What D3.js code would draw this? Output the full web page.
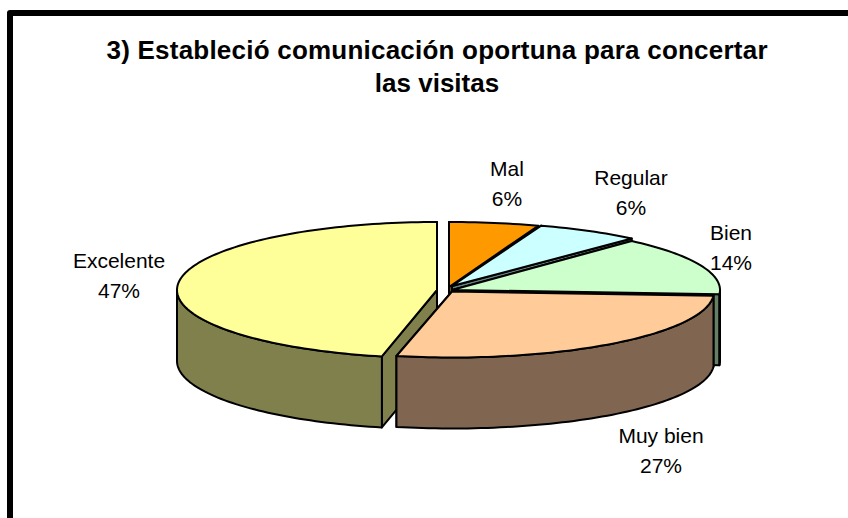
<!DOCTYPE html>
<html><head><meta charset="utf-8">
<script src="https://cdn.jsdelivr.net/npm/d3@7/dist/d3.min.js"></script>
<style>html,body{margin:0;padding:0;background:#fff}svg{display:block}text{font-family:"Liberation Sans",Arial,sans-serif;fill:#000}</style>
</head><body><div id="chart"></div>
<script>
const categories = ["Mal","Regular","Bien","Muy bien","Excelente"];
const values = [5.4,6.3,14.3,27.4,46.6];
const percentLabels = ["6%","6%","14%","27%","47%"];
const topColors = ["#FF9900","#CCFFFF","#CCFFCC","#FFCC99","#FFFF99"];
const wallColors = ["#804D00","#668080","#668066","#806650","#80804D"];
const titleLines = ["3) Estableció comunicación oportuna para concertar","las visitas"];

// layout
const W=848,H=518,depth=71;
const sliceCenters=[[449,287],[452,286],[452,290],[452,291.5],[437,290]];
const radiiX=[268,268,268,262,260], radiiY=[65,64,66,66,68];
const labelCenters=[[507,184],[631,193],[731,248],[661,451],[119,276]];
const drawOrder=[0,1,2,4,3];

const svg=d3.select("#chart").append("svg").attr("width",W).attr("height",H);
svg.append("rect").attr("width",W).attr("height",H).attr("fill","#fff");
svg.append("path").attr("d",d3.line()([[10,H+5],[10,13],[W+5,13]]))
  .attr("fill","none").attr("stroke","#000").attr("stroke-width",6).attr("stroke-linejoin","round");

svg.selectAll(".title").data(titleLines).join("text").attr("class","title")
  .attr("x",437).attr("y",(d,i)=>59+i*33).attr("text-anchor","middle")
  .attr("font-weight","bold").attr("font-size",26).attr("textLength",(d,i)=>i===0?661:null).text(d=>d);

const arcs=d3.pie().sort(null).value(d=>d)(values);
const line=d3.line();
function pt(i,a,dy=0){return [sliceCenters[i][0]+radiiX[i]*Math.sin(a),sliceCenters[i][1]-radiiY[i]*Math.cos(a)+dy];}
function arcPts(i,a0,a1,dy=0){const n=Math.max(2,Math.ceil((a1-a0)*40));return d3.range(n+1).map(k=>pt(i,a0+(a1-a0)*k/n,dy));}
const g=svg.append("g").attr("stroke","#000").attr("stroke-width",2).attr("stroke-linejoin","round");
const HALF=Math.PI/2, BACK=Math.PI*1.5;
drawOrder.forEach(i=>{
  const a=arcs[i], c=sliceCenters[i], wall=wallColors[i];
  [a.startAngle,a.endAngle].forEach(t=>{
    const p=pt(i,t);
    g.append("path").attr("fill",wall).attr("d",line([c,p,[p[0],p[1]+depth],[c[0],c[1]+depth]])+"Z");
  });
  const f0=Math.max(a.startAngle,HALF), f1=Math.min(a.endAngle,BACK);
  if(f1>f0){
    const upper=arcPts(i,f0,f1), lower=arcPts(i,f0,f1,depth).reverse();
    g.append("path").attr("fill",wall).attr("d",line(upper.concat(lower))+"Z");
  }
  g.append("path").attr("fill",topColors[i]).attr("d",line([c].concat(arcPts(i,a.startAngle,a.endAngle)))+"Z");
});

categories.forEach((name,i)=>{
  const t=svg.append("text").attr("text-anchor","middle").attr("font-size",21);
  t.append("tspan").attr("x",labelCenters[i][0]).attr("y",labelCenters[i][1]-8).text(name);
  t.append("tspan").attr("x",labelCenters[i][0]).attr("y",labelCenters[i][1]+22).text(percentLabels[i]);
});
</script></body></html>
